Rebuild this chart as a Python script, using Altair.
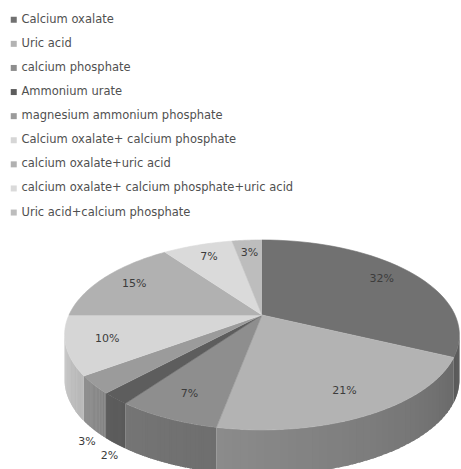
import altair as alt
import pandas as pd

# Stone composition shares (percent), listed clockwise from 12 o'clock
stones = [
    "Calcium oxalate",
    "Uric acid",
    "calcium phosphate",
    "Ammonium urate",
    "magnesium ammonium phosphate",
    "Calcium oxalate+ calcium phosphate",
    "calcium oxalate+uric acid",
    "calcium oxalate+ calcium phosphate+uric acid",
    "Uric acid+calcium phosphate",
]
percent = [32, 21, 7, 2, 3, 10, 15, 7, 3]

# Grey level of each slice's top face (0-255)
gray_levels = [113, 179, 142, 93, 155, 214, 177, 218, 189]
palette = ["#{0:02x}{0:02x}{0:02x}".format(g) for g in gray_levels]

W, H = 461, 469

# Perspective disc geometry (screen pixels)
CX, CY = 262, 315      # apex of the slices
R, S = 193, 90.8       # horizontal / vertical reach of the rim
P = 0.21               # perspective strength (back of the disc shrinks)
DEPTH = 45             # thickness of the disc
TLO, THI = "(102 * PI / 180)", "(258 * PI / 180)"  # front wall visible range
ARC_STEPS = 40
WALL_STEPS = 40

df = pd.DataFrame({
    "stone": stones,
    "pct": percent,
    "slot": list(range(len(stones))),
    "gray": gray_levels,
})


def px(f, t):
    return f"({CX} + {R} * ({f}) * sin({t}) / (1 + {P} * ({f}) * cos({t})))"


def py(f, t):
    return f"({CY} - {S} * ({f}) * cos({t}) / (1 + {P} * ({f}) * cos({t})))"


xs = alt.X("x:Q", scale=alt.Scale(domain=[0, W], nice=False, zero=False), axis=None)
ys = alt.Y("y:Q", scale=alt.Scale(domain=[0, H], nice=False, zero=False, reverse=True), axis=None)

base = (
    alt.Chart(df)
    .transform_joinaggregate(total="sum(pct)")
    .transform_window(cum="sum(pct)", sort=[alt.SortField("slot")], frame=[None, 0])
    .transform_calculate(
        a0="(datum.cum - datum.pct) / datum.total * 2 * PI",
        a1="datum.cum / datum.total * 2 * PI",
    )
)

# Side walls: narrow overlapping quads along the visible front rim,
# shaded from light (left) to dark (right)
walls = (
    base.transform_calculate(lo=f"max(datum.a0, {TLO})", hi=f"min(datum.a1, {THI})")
    .transform_filter("datum.hi > datum.lo")
    .transform_calculate(k=f"sequence(0, {WALL_STEPS})")
    .transform_flatten(["k"])
    .transform_calculate(c="[0, 1, 2, 3]")
    .transform_flatten(["c"])
    .transform_calculate(
        t=(
            f"datum.lo + min(datum.k + ((datum.c == 1 || datum.c == 2) ? 1.6 : 0), {WALL_STEPS})"
            f" / {WALL_STEPS} * (datum.hi - datum.lo)"
        ),
        tm=f"datum.lo + (datum.k + 0.5) / {WALL_STEPS} * (datum.hi - datum.lo)",
        strip="datum.stone + '|' + datum.k",
    )
    .transform_calculate(
        x=px(1, "datum.t"),
        y=py(1, "datum.t") + f" + (datum.c >= 2 ? {DEPTH} : 0)",
        shade=f"0.52 + 0.38 * pow((datum.tm - {TLO}) / ({THI} - {TLO}), 0.7)",
    )
    .transform_calculate(g="round(datum.gray * datum.shade)")
    .transform_calculate(wc="'rgb(' + datum.g + ',' + datum.g + ',' + datum.g + ')'")
    .mark_line(filled=True, strokeWidth=0)
    .encode(
        x=xs,
        y=ys,
        order="c:Q",
        detail="strip:N",
        color=alt.Color("wc:N", scale=None, legend=None),
    )
)

color_scale = alt.Scale(domain=stones, range=palette)

# Top faces: apex followed by the rim arc of each slice
top = (
    base.transform_calculate(k=f"sequence(0, {ARC_STEPS + 2})")
    .transform_flatten(["k"])
    .transform_calculate(
        f="datum.k == 0 ? 0 : 1",
        t=f"datum.a0 + max(datum.k - 1, 0) / {ARC_STEPS} * (datum.a1 - datum.a0)",
    )
    .transform_calculate(x=px("datum.f", "datum.t"), y=py("datum.f", "datum.t"))
    .mark_line(filled=True, strokeWidth=0.6)
    .encode(
        x=xs,
        y=ys,
        order="k:Q",
        detail="stone:N",
        color=alt.Color(
            "stone:N",
            scale=color_scale,
            sort=stones,
            legend=alt.Legend(
                title=None,
                orient="none",
                legendX=8,
                legendY=14,
                symbolType="square",
                symbolSize=36,
                symbolStrokeWidth=0,
                labelFont="DejaVu Sans",
                labelFontSize=11.5,
                labelColor="#505050",
                labelOffset=2,
                rowPadding=11.1,
                labelLimit=400,
                padding=0,
            ),
        ),
        stroke=alt.Stroke("stone:N", scale=color_scale, legend=None),
    )
)

# Percentage labels: inside the face, or below the rim for thin front slices
labels = (
    base.transform_calculate(tm="(datum.a0 + datum.a1) / 2")
    .transform_calculate(out="datum.pct < 5 && cos(datum.tm) < 0 ? 1 : 0")
    .transform_calculate(fr="datum.out == 1 ? 1.05 : 0.8")
    .transform_calculate(
        x=px("datum.fr", "datum.tm") + " + (datum.out == 1 ? 3 : 0)",
        y=py("datum.fr", "datum.tm") + f" + (datum.out == 1 ? {DEPTH} + 8 : 0)",
        label="datum.pct + '%'",
    )
    .mark_text(font="DejaVu Sans", fontSize=11, color="#3c3c3c")
    .encode(x=xs, y=ys, text="label:N")
)

chart = (
    alt.layer(walls, top, labels)
    .resolve_scale(color="independent", stroke="independent")
    .properties(width=W, height=H, padding=0, autosize=alt.AutoSizeParams(type="none"))
    .configure_view(stroke=None)
)

chart.save("out.html", embed_options={"renderer": "svg", "actions": False})
